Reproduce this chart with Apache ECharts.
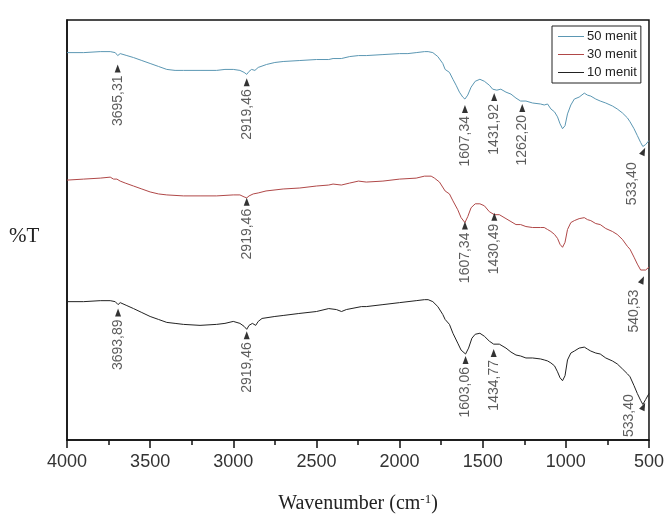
<!DOCTYPE html>
<html>
<head>
<meta charset="utf-8">
<script src="https://cdn.jsdelivr.net/npm/echarts@6/dist/echarts.min.js"></script>
<style>
html,body{margin:0;padding:0;background:#fff;}
#chart{width:667px;height:519px;}
</style>
</head>
<body>
<div id="chart"></div>
<script>
// Wavenumber ticks
const xTicks = [4000, 3500, 3000, 2500, 2000, 1500, 1000, 500];
const seriesNames = ['50 menit', '30 menit', '10 menit'];

// 50 menit spectrum (wavenumber, offset %T)
const wn50 = [4000,3900,3800,3740,3710,3695,3680,3640,3600,3550,3500,3450,3400,3350,3300,3200,3100,3050,3000,2960,2935,2919,2905,2890,2870,2850,2800,2750,2700,2600,2500,2426,2400,2350,2300,2247,2200,2100,2000,1950,1900,1850,1828,1800,1770,1740,1726,1700,1679,1660,1640,1620,1607,1590,1570,1545,1517,1490,1460,1440,1431,1415,1391,1360,1330,1300,1272,1240,1200,1152,1130,1110,1090,1068,1050,1035,1020,1005,990,970,949,920,889,870,850,820,793,760,720,691,660,630,614,590,570,550,537,520,500];
const t50 = [392,392,393,393,392,389,391,389,387,384,381,378,375,374,374,374,374,375,375,374,372,370,373,375,374,377,380,382,383,384,385,385,386,386,388,389,389,390,391,391,392,393,393,392,388,381,375,372,365,359,352,347,345,349,357,363,365,363,359,355,353,354,355,352,350,346,343,343,341,340,339,340,335,332,327,320,315,318,330,339,345,347,351,349,348,345,343,341,338,335,331,326,322,315,308,301,297,299,303];

// 30 menit spectrum
const wn30 = [4000,3900,3800,3740,3720,3700,3680,3650,3600,3550,3500,3450,3400,3300,3200,3100,3000,2960,2935,2919,2905,2880,2850,2803,2700,2600,2500,2426,2400,2350,2300,2247,2200,2100,2000,1900,1850,1810,1790,1760,1726,1700,1679,1650,1630,1607,1590,1570,1545,1517,1490,1460,1430,1400,1391,1360,1330,1300,1272,1240,1200,1152,1130,1110,1090,1068,1050,1035,1020,1005,990,970,949,920,889,870,850,820,793,760,720,691,660,630,614,590,570,550,540,520,500];
const t30 = [263,264,265,266,264,264,262,260,257,254,251,249,248,247,247,247,248,248,246,245,247,249,250,252,254,255,257,258,259,258,260,262,261,262,264,265,267,267,265,261,252,249,242,233,225,220,226,235,239,239,237,231,228,228,228,224,221,218,218,216,215,215,215,213,211,208,204,198,195,200,213,220,222,224,225,223,222,219,218,214,211,208,203,196,193,185,178,172,170,172,175];

// 10 menit spectrum
const wn10 = [4000,3900,3800,3740,3710,3693,3680,3640,3600,3550,3500,3450,3400,3350,3300,3200,3100,3050,3000,2960,2935,2919,2905,2885,2865,2850,2827,2750,2700,2606,2500,2426,2380,2349,2320,2229,2200,2100,2000,1900,1850,1828,1800,1770,1740,1726,1700,1679,1650,1630,1603,1585,1565,1545,1517,1490,1460,1434,1400,1391,1360,1330,1300,1272,1240,1200,1152,1130,1110,1090,1068,1050,1035,1020,1005,990,970,949,920,889,870,850,820,793,760,720,691,660,630,614,590,570,550,537,520,500];
const t10 = [140,140,141,141,140,137,139,136,133,129,125,122,119,118,117,116,117,118,120,118,115,112,116,118,116,120,123,125,126,128,130,133,132,130,132,135,135,137,139,141,142,142,140,135,127,122,117,108,98,91,87,93,103,107,108,105,100,97,97,97,93,89,86,85,83,83,82,81,80,78,75,69,63,60,65,81,88,90,93,94,92,90,88,87,83,80,77,72,67,64,55,47,40,36,41,47];

// Peak annotations: wavenumber, marker level, label
const peakWn50 = [3695, 2919, 1607, 1431, 1262, 533];
const peakT50 = [376, 362, 335, 347, 336, 292];
const peakLbl50 = ['3695,31', '2919,46', '1607,34', '1431,92', '1262,20', '533,40'];
const peakWn30 = [2919, 1607, 1430, 540];
const peakT30 = [241, 217, 226, 162];
const peakLbl30 = ['2919,46', '1607,34', '1430,49', '540,53'];
const peakWn10 = [3693, 2919, 1603, 1434, 533];
const peakT10 = [129, 106, 81, 88, 34];
const peakLbl10 = ['3693,89', '2919,46', '1603,06', '1434,77', '533,40'];

const colors = ['#5b97b3', '#b04848', '#222222'];

function pairs(xs, ys) { return xs.map((x, i) => [x, ys[i]]); }

// styling for the tilted end-of-spectrum markers (label offsets are in the rotated text frame)
const edgeStyle = {
  '50 menit': { rot: -25, off: [-3, -11] },
  '30 menit': { rot: -25, off: [-2, -8] },
  '10 menit': { rot: -25, off: [20, -14] }
};

function peakSeries(name, xs, ys, lbls) {
  return {
    type: 'scatter',
    name: name + ' peaks',
    symbol: 'triangle',
    symbolSize: [6, 8],
    itemStyle: { color: '#000' },
    z: 5,
    silent: true,
    label: {
      show: true,
      position: 'bottom',
      distance: 3,
      rotate: 90,
      align: 'right',
      verticalAlign: 'middle',
      fontFamily: 'Liberation Sans, Arial, sans-serif',
      fontSize: 14,
      color: '#333',
      formatter: p => p.data.lbl
    },
    data: xs.map((x, i) => {
      const d = { value: [x, ys[i]], lbl: lbls[i] };
      if (x < 600) {
        d.symbolRotate = edgeStyle[name].rot;
        d.label = { offset: edgeStyle[name].off };
      }
      return d;
    })
  };
}

const chart = echarts.init(document.getElementById('chart'), null, { renderer: 'canvas' });
chart.setOption({
  animation: false,
  backgroundColor: '#fff',
  grid: {
    left: 67, right: 15, top: 20, bottom: 74,
    show: true, borderColor: '#111', borderWidth: 1.5, backgroundColor: 'transparent'
  },
  graphic: [{
    type: 'text',
    left: 9,
    top: 226,
    style: {
      text: '%T',
      fontFamily: 'Liberation Serif, Times New Roman, serif',
      fontSize: 21,
      fill: '#222'
    }
  }],
  legend: {
    data: seriesNames,
    orient: 'vertical',
    left: 552, top: 26,
    width: 90,
    icon: 'rect',
    itemWidth: 26,
    itemHeight: 1,
    itemGap: 5,
    padding: [4, 4, 4, 6],
    borderColor: '#222',
    borderWidth: 1,
    backgroundColor: '#fff',
    textStyle: { fontFamily: 'Liberation Sans, Arial, sans-serif', fontSize: 13, color: '#222', padding: [0, 0, 0, -2] }
  },
  xAxis: {
    type: 'value',
    inverse: true,
    min: 500, max: 4000, interval: 500,
    axisLine: { show: true, lineStyle: { color: '#111', width: 1.5 } },
    axisTick: { show: true, inside: false, length: 8, lineStyle: { color: '#111', width: 1.5 } },
    minorTick: { show: true, splitNumber: 2, length: 5, lineStyle: { color: '#111', width: 1.5 } },
    splitLine: { show: false },
    axisLabel: {
      margin: 13,
      fontFamily: 'Liberation Sans, Arial, sans-serif',
      fontSize: 18,
      color: '#333',
      formatter: v => xTicks.includes(v) ? String(v) : ''
    },
    name: 'Wavenumber (cm{sup|-1})',
    nameLocation: 'middle',
    nameGap: 53,
    nameTextStyle: {
      fontFamily: 'Liberation Serif, Times New Roman, serif',
      fontSize: 20,
      color: '#222',
      rich: { sup: { fontFamily: 'Liberation Serif, serif', fontSize: 13, verticalAlign: 'top', padding: [0, 0, 9, 0], color: '#222' } }
    }
  },
  yAxis: {
    type: 'value',
    min: 0, max: 425,
    axisLine: { show: true, lineStyle: { color: '#111', width: 1.5 } },
    axisTick: { show: false },
    axisLabel: { show: false },
    splitLine: { show: false }
  },
  series: [
    { type: 'line', name: seriesNames[0], data: pairs(wn50, t50), showSymbol: false, symbol: 'none', lineStyle: { width: 1, color: colors[0] }, itemStyle: { color: colors[0] } },
    { type: 'line', name: seriesNames[1], data: pairs(wn30, t30), showSymbol: false, symbol: 'none', lineStyle: { width: 1, color: colors[1] }, itemStyle: { color: colors[1] } },
    { type: 'line', name: seriesNames[2], data: pairs(wn10, t10), showSymbol: false, symbol: 'none', lineStyle: { width: 1, color: colors[2] }, itemStyle: { color: colors[2] } },
    peakSeries(seriesNames[0], peakWn50, peakT50, peakLbl50),
    peakSeries(seriesNames[1], peakWn30, peakT30, peakLbl30),
    peakSeries(seriesNames[2], peakWn10, peakT10, peakLbl10)
  ]
});
</script>
</body>
</html>
